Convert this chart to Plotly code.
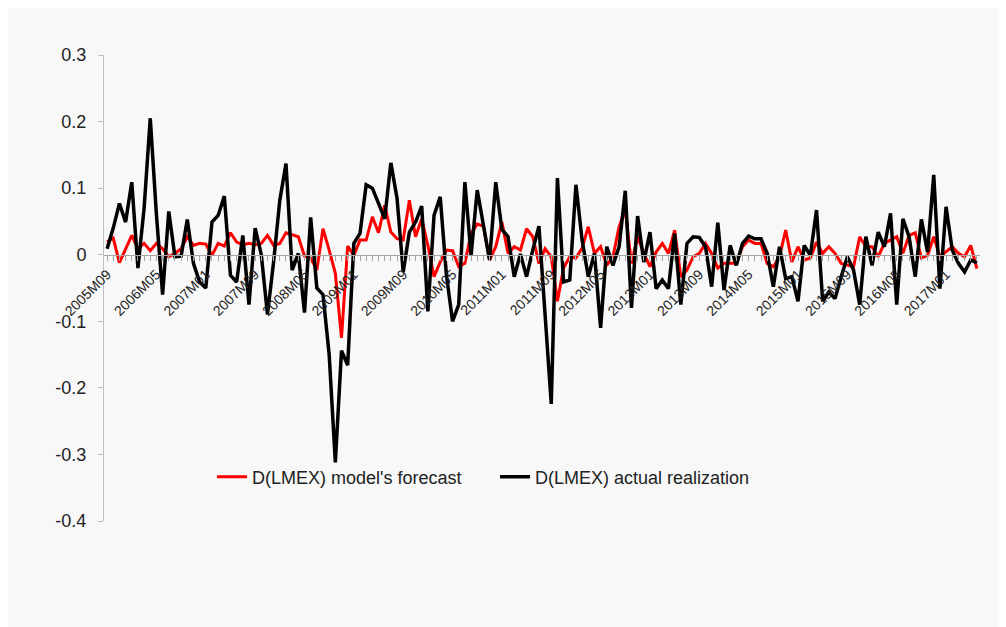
import plotly.graph_objects as go

# Monthly categories 2005M09 .. 2017M06
months = []
y, m = 2005, 9
for _ in range(142):
    months.append(f"{y}M{m:02d}")
    m += 1
    if m > 12:
        m = 1
        y += 1

forecast = [
    0.019, 0.025, -0.012, 0.008, 0.029, 0.009, 0.017, 0.006, 0.017, 0.009,
    -0.003, 0.002, 0.009, 0.027, 0.014, 0.017, 0.016, -0.001, 0.017, 0.013,
    0.033, 0.019, 0.015, 0.017, 0.015, 0.017, 0.029, 0.014, 0.017, 0.033,
    0.030, 0.027, -0.002, -0.005, -0.023, 0.039, 0.007, -0.028, -0.125, 0.013,
    -0.001, 0.022, 0.022, 0.057, 0.033, 0.074, 0.034, 0.024, 0.022, 0.082,
    0.027, 0.054, 0.014, -0.033, -0.011, 0.007, 0.006, -0.018, -0.013, 0.032,
    0.046, 0.043, -0.008, 0.012, 0.049, 0.002, 0.012, 0.007, 0.039, 0.027,
    -0.013, 0.009, -0.003, -0.070, -0.020, -0.003, -0.005, 0.010, 0.042, 0.002,
    0.012, -0.016, -0.003, 0.042, 0.067, -0.013, 0.027, 0.002, -0.018, 0.004,
    0.017, 0.002, 0.037, -0.033, -0.023, -0.003, 0.002, 0.017, 0.002, -0.020,
    -0.013, -0.013, -0.013, 0.012, 0.022, 0.017, 0.017, -0.013, -0.018, -0.003,
    0.037, -0.011, 0.012, -0.008, -0.005, 0.019, 0.002, 0.012, 0.002, -0.013,
    -0.016, -0.018, 0.027, 0.012, 0.012, -0.003, 0.017, 0.022, 0.027, 0.002,
    0.029, 0.033, -0.005, -0.001, 0.027, -0.003, 0.004, 0.012, 0.002, -0.003,
    0.014, -0.021,
]

actual = [
    0.009, 0.040, 0.077, 0.049, 0.109, -0.020, 0.070, 0.205, 0.060, -0.060,
    0.065, -0.003, -0.002, 0.053, -0.013, -0.041, -0.050, 0.049, 0.059, 0.088,
    -0.031, -0.041, 0.029, -0.075, 0.040, 0.000, -0.090, -0.010, 0.082, 0.137,
    -0.023, 0.002, -0.087, 0.056, -0.050, -0.060, -0.150, -0.312, -0.144, -0.166,
    0.017, 0.032, 0.105, 0.100, 0.077, 0.054, 0.138, 0.085, -0.026, 0.034,
    0.049, 0.073, -0.085, 0.059, 0.087, -0.030, -0.100, -0.075, 0.109, -0.001,
    0.097, 0.042, -0.008, 0.109, 0.038, 0.027, -0.033, 0.001, -0.033, 0.007,
    0.043, -0.090, -0.224, 0.115, -0.041, -0.038, 0.105, 0.022, -0.033, 0.002,
    -0.110, 0.012, -0.016, 0.012, 0.096, -0.080, 0.058, -0.011, 0.034, -0.051,
    -0.038, -0.051, 0.032, -0.075, 0.017, 0.027, 0.026, 0.012, -0.048, 0.048,
    -0.053, 0.014, -0.016, 0.017, 0.028, 0.024, 0.024, 0.002, -0.048, 0.012,
    -0.036, -0.033, -0.070, 0.014, -0.001, 0.067, -0.070, -0.056, -0.066, -0.033,
    -0.003, -0.023, -0.075, 0.027, -0.016, 0.034, 0.012, 0.062, -0.075, 0.054,
    0.027, -0.033, 0.053, 0.004, 0.120, -0.051, 0.072, 0.007, -0.013, -0.026,
    -0.008, -0.012,
]

y_ticks = [0.3, 0.2, 0.1, 0, -0.1, -0.2, -0.3, -0.4]
y_ticktext = ["0.3", "0.2", "0.1", "0", "-0.1", "-0.2", "-0.3", "-0.4"]

x_ticktext = [mo if i % 8 == 0 else "" for i, mo in enumerate(months)]

font_family = "Liberation Sans, Arial, sans-serif"

fig = go.Figure()
fig.add_trace(go.Scatter(
    x=months, y=forecast, mode="lines", name="D(LMEX) model's forecast",
    line=dict(color="#ff0000", width=3),
))
fig.add_trace(go.Scatter(
    x=months, y=actual, mode="lines", name="D(LMEX) actual realization",
    line=dict(color="#000000", width=3.5),
))

# page has an 8px body margin, so the figure is offset by 8px
ymin, ymax = -0.4, 0.3
W, H = 998, 619
L, T, R = 96, 47, 26
B = H - (521 - 8)
fig.update_layout(
    width=W, height=H,
    paper_bgcolor="#f8f8f8", plot_bgcolor="#f8f8f8",
    margin=dict(l=L, r=R, t=T, b=B),
    font=dict(family=font_family, color="#222222"),
    showlegend=True,
    legend=dict(
        orientation="h", x=(212 - 104) / 876, xanchor="left",
        y=(521 - 477) / 466, yanchor="middle",
        bgcolor="rgba(0,0,0,0)", font=dict(size=18, color="#222222"),
        entrywidth=238, entrywidthmode="pixels", itemwidth=30,
    ),
    xaxis=dict(
        type="category", categoryorder="array", categoryarray=months,
        range=[-0.5, len(months) - 0.5],
        anchor="free", position=(0 - ymin) / (ymax - ymin),
        showline=True, linecolor="#a6a6a6", linewidth=1,
        showgrid=False, zeroline=False,
        tickmode="array", tickvals=months, ticktext=x_ticktext,
        ticks="outside", ticklen=5, tickcolor="#a6a6a6", tickwidth=1,
        tickangle=-45, tickfont=dict(size=14, color="#222222"),
    ),
    yaxis=dict(
        range=[ymin, ymax], showgrid=False, zeroline=False,
        showline=True, linecolor="#bfbfbf", linewidth=1,
        tickmode="array", tickvals=y_ticks, ticktext=y_ticktext,
        ticks="outside", ticklen=5, tickcolor="#bfbfbf",
        ticklabelstandoff=8,
        tickfont=dict(size=18, color="#222222"),
    ),
)

fig.write_html("out.html")
